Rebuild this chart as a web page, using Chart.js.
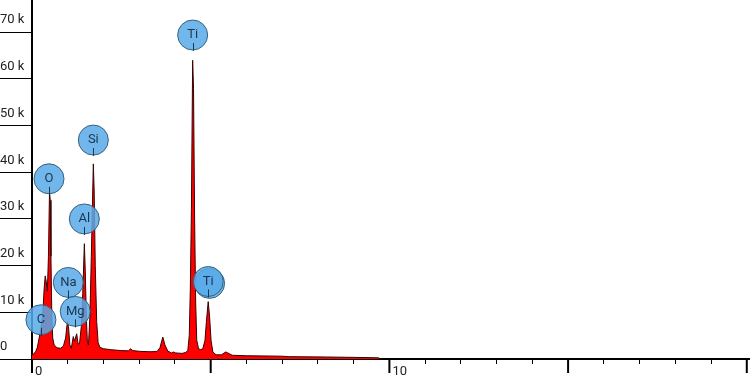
<!DOCTYPE html>
<html>
<head>
<meta charset="utf-8">
<script src="https://cdn.jsdelivr.net/npm/chart.js@4.4.0/dist/chart.umd.min.js"></script>
<style>
  html, body { margin: 0; padding: 0; background: #fff; }
  #wrap { width: 750px; height: 375px; position: relative; }
</style>
</head>
<body>
<div id="wrap"><canvas id="spec"></canvas></div>
<script>
// ---- spectrum data (energy in keV, counts) ----
const energy = [
  0.00, 0.05, 0.10, 0.15, 0.20, 0.25, 0.30, 0.34, 0.37, 0.40, 0.43, 0.46, 0.49, 0.51, 0.53, 0.555, 0.58, 0.62,
  0.70, 0.80, 0.88, 0.94, 0.99, 1.02, 1.06, 1.10, 1.155, 1.19, 1.25, 1.29, 1.33, 1.38, 1.42, 1.465, 1.49, 1.52,
  1.55, 1.58, 1.62, 1.66, 1.716, 1.74, 1.77, 1.81, 1.85, 1.90, 2.00, 2.20, 2.50, 2.70, 2.76, 2.82, 3.00, 3.30,
  3.50, 3.58, 3.66, 3.72, 3.80, 3.90, 3.96, 4.02, 4.20, 4.30, 4.36, 4.40, 4.43, 4.46, 4.495, 4.52, 4.55, 4.58,
  4.61, 4.66, 4.72, 4.78, 4.84, 4.88, 4.93, 4.97, 5.01, 5.06, 5.15, 5.30, 5.42, 5.48, 5.60, 6.00, 7.00, 7.20,
  8.00, 9.00, 9.70, 9.75
];
const counts = [
  800, 1200, 1500, 2500, 4500, 6500, 9500, 15000, 17800, 16500, 14500, 22000, 36000, 34000, 22000, 9000, 4500, 3000,
  2400, 2300, 2800, 4500, 8000, 7000, 3000, 2300, 4800, 3800, 5400, 3200, 3300, 7000, 14000, 24700, 19000, 9000,
  3500, 3000, 9000, 22000, 41800, 36000, 20000, 8000, 3500, 2500, 2200, 2000, 1800, 1750, 2200, 1800, 1650, 1550,
  1600, 2400, 4700, 3000, 1700, 1300, 1500, 1300, 1200, 1400, 1800, 5000, 15000, 32000, 64000, 58000, 30000, 12000,
  4000, 2200, 2000, 2200, 4000, 8000, 12300, 9000, 4000, 1500, 900, 900, 1500, 1300, 800, 700, 600, 500,
  450, 350, 250, 0
];

// ---- element labels (circle centre: energy keV, counts) ----
// the '' entry is the second ring behind the Ti K-beta label
const annLabels = ['C', 'O', 'Na', 'Mg', 'Al', 'Si', 'Ti', '', 'Ti'];
const annEnergy = [0.25, 0.476, 1.016, 1.21, 1.464, 1.716, 4.495, 4.97, 4.93];
const annCounts = [8400, 38600, 16400, 10200, 30000, 46900, 69400, 16200, 16600];

// ---- axes ----
const yMax = 76900;
const yTicks = [0, 10000, 20000, 30000, 40000, 50000, 60000, 70000];
const xMax = 20.09;
const xTicks = [0, 1, 2, 3, 4, 5, 6, 7, 8, 9, 10, 11, 12, 13, 14, 15, 16, 17, 18, 19, 20];
const majorTicks = [0, 5, 10, 15, 20];
const xLabelled = [0, 10];

const fontFam = 'Roboto, "Open Sans", sans-serif';

// long ticks every 5 keV (the scale itself draws the short 1 keV ones)
const majorTickPlugin = {
  id: 'majorTicks',
  afterDraw(chart){
    const x = chart.scales.x;
    const ctx = chart.ctx;
    ctx.save();
    ctx.strokeStyle = '#000';
    ctx.lineWidth = 2;
    majorTicks.forEach(v => {
      const px = x.getPixelForValue(v);
      ctx.beginPath();
      ctx.moveTo(px, x.top);
      ctx.lineTo(px, x.top + 14);
      ctx.stroke();
    });
    ctx.restore();
  }
};

// text + small marker inside each element circle
const annTextPlugin = {
  id: 'annText',
  afterDatasetsDraw(chart){
    const {ctx, scales: {x, y}} = chart;
    ctx.save();
    ctx.font = '13px ' + fontFam;
    ctx.textAlign = 'center';
    ctx.textBaseline = 'middle';
    annLabels.forEach((lab, i) => {
      if(!lab) return;
      const px = x.getPixelForValue(annEnergy[i]);
      const py = y.getPixelForValue(annCounts[i]);
      ctx.strokeStyle = '#1c3550';
      ctx.lineWidth = 1;
      ctx.beginPath();
      ctx.moveTo(Math.round(px) + 0.5, py + 8);
      ctx.lineTo(Math.round(px) + 0.5, py + 16);
      ctx.stroke();
      ctx.fillStyle = '#1c3550';
      ctx.fillText(lab, px, py);
    });
    ctx.restore();
  }
};

new Chart(document.getElementById('spec'), {
  type: 'line',
  data: {
    datasets: [
      {
        label: 'spectrum',
        data: energy.map((e, i) => ({x: e, y: counts[i]})),
        borderColor: '#3a0000',
        borderWidth: 1,
        backgroundColor: '#ff0000',
        fill: 'origin',
        pointRadius: 0,
        tension: 0,
        order: 2
      },
      {
        type: 'scatter',
        label: 'elements',
        data: annEnergy.map((e, i) => ({x: e, y: annCounts[i]})),
        pointRadius: 15,
        pointHoverRadius: 15,
        backgroundColor: 'rgba(88,170,232,0.85)',
        borderColor: '#36607f',
        borderWidth: 1,
        clip: false,
        order: 1
      }
    ]
  },
  options: {
    responsive: true,
    maintainAspectRatio: false,
    animation: false,
    layout: { padding: 0, autoPadding: false },
    plugins: { legend: { display: false }, tooltip: { enabled: false } },
    scales: {
      x: {
        type: 'linear',
        min: 0, max: xMax,
        afterBuildTicks: s => { s.ticks = xTicks.map(v => ({value: v})); },
        afterFit: s => { s.height = 16; s.paddingLeft = 0; s.paddingRight = 0; },
        border: { color: '#000', width: 2 },
        grid: { drawOnChartArea: false, tickLength: 5, color: '#000', lineWidth: 1 },
        ticks: {
          autoSkip: false, maxRotation: 0,
          align: 'start', labelOffset: 3, padding: 0,
          color: '#222', font: { family: fontFam, size: 13 },
          callback: v => xLabelled.includes(v) ? String(v) : ''
        }
      },
      y: {
        min: 0, max: yMax,
        afterBuildTicks: s => { s.ticks = yTicks.map(v => ({value: v})); },
        afterFit: s => { s.width = 32; s.paddingTop = 0; s.paddingBottom = 0; },
        border: { color: '#000', width: 2 },
        grid: { drawOnChartArea: false, tickLength: 32, color: '#000', lineWidth: 1 },
        ticks: {
          crossAlign: 'far',
          labelOffset: -12, padding: 0,
          color: '#222', font: { family: fontFam, size: 13 },
          callback: v => v === 0 ? '0' : (v / 1000) + ' k'
        }
      }
    }
  },
  plugins: [majorTickPlugin, annTextPlugin]
});
</script>
</body>
</html>
